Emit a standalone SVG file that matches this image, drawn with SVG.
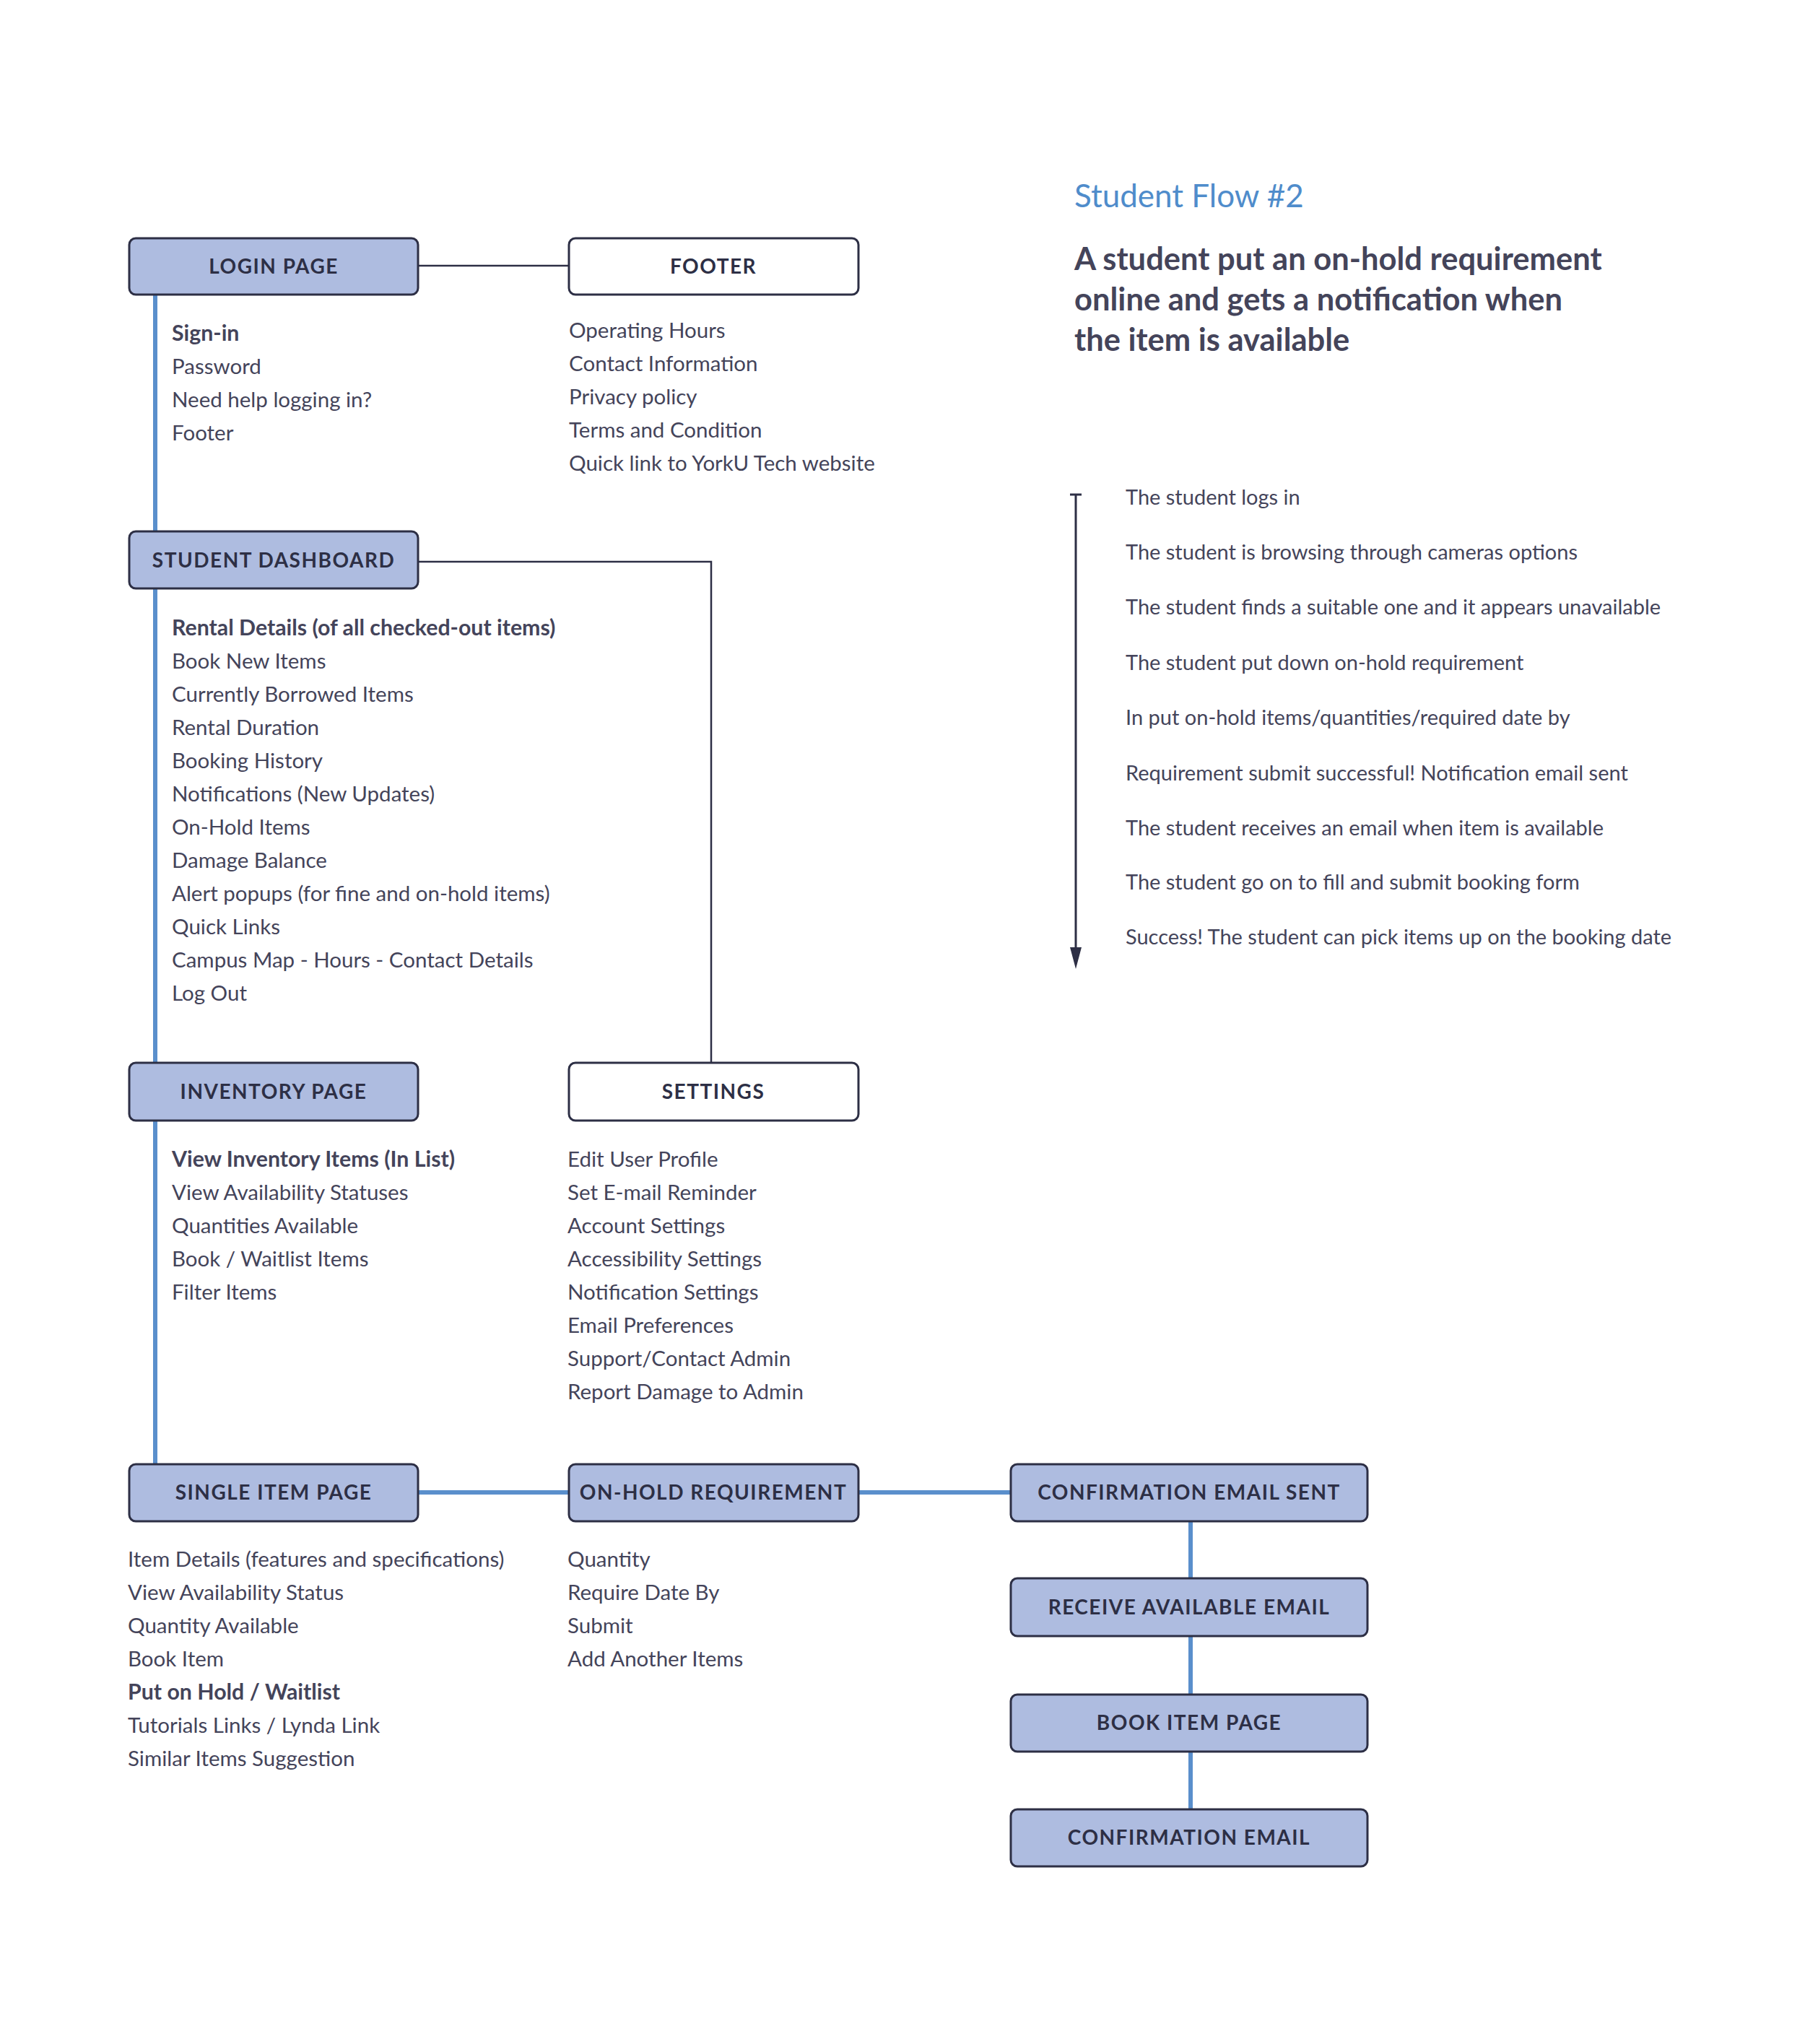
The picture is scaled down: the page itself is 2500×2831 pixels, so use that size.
<svg xmlns="http://www.w3.org/2000/svg" width="2500" height="2831" viewBox="0 0 2500 2831">
<style>
.box{fill:#aebce0;stroke:#2d2f45;stroke-width:3}
.wbox{fill:#ffffff;stroke:#2d2f45;stroke-width:3}
.lbl{font-family:Lato,"Liberation Sans",sans-serif;font-size:28px;font-weight:700;fill:#2d2f45;letter-spacing:1.5px;text-anchor:middle}
.it{font-family:Lato,"Liberation Sans",sans-serif;font-size:29.5px;fill:#44445a}
.b{font-weight:700;font-size:30.3px}
.blue{stroke:#5a8fcc;stroke-width:6;fill:none}
.dark{stroke:#2d2f45;stroke-width:2.5;fill:none}
.title{font-family:Lato,"Liberation Sans",sans-serif;font-size:44px;fill:#4f8ccb}
.head{font-family:Lato,"Liberation Sans",sans-serif;font-size:43.5px;font-weight:700;fill:#44445a}
.fl{font-family:Lato,"Liberation Sans",sans-serif;font-size:29px;fill:#44445a}
</style>
<rect width="2500" height="2831" fill="#ffffff"/>

<g id="connectors">
<line class="dark" x1="579" y1="368" x2="788" y2="368"/>
<polyline class="dark" points="579,778 985,778 985,1472"/>
<line class="blue" x1="215" y1="408" x2="215" y2="736"/>
<line class="blue" x1="215" y1="815" x2="215" y2="1472"/>
<line class="blue" x1="215" y1="1552" x2="215" y2="2028"/>
<line class="blue" x1="579" y1="2067" x2="788" y2="2067"/>
<line class="blue" x1="1189" y1="2067" x2="1400" y2="2067"/>
<line class="blue" x1="1649" y1="2107" x2="1649" y2="2186"/>
<line class="blue" x1="1649" y1="2266" x2="1649" y2="2347"/>
<line class="blue" x1="1649" y1="2426" x2="1649" y2="2506"/>
</g>

<g id="login">
<rect class="box" x="179" y="330" width="400" height="78" rx="9"/>
<text class="lbl" x="379" y="379">LOGIN PAGE</text>
<text class="it b" x="238" y="472">Sign-in</text>
<text class="it" x="238" y="518">Password</text>
<text class="it" x="238" y="564">Need help logging in?</text>
<text class="it" x="238" y="610">Footer</text>
</g>

<g id="footer">
<rect class="wbox" x="788" y="330" width="401" height="78" rx="9"/>
<text class="lbl" x="988" y="379">FOOTER</text>
<text class="it" x="788" y="468">Operating Hours</text>
<text class="it" x="788" y="514">Contact Information</text>
<text class="it" x="788" y="560">Privacy policy</text>
<text class="it" x="788" y="606">Terms and Condition</text>
<text class="it" x="788" y="652">Quick link to YorkU Tech website</text>
</g>

<g id="dashboard">
<rect class="box" x="179" y="736" width="400" height="79" rx="9"/>
<text class="lbl" x="379" y="786">STUDENT DASHBOARD</text>
<text class="it b" x="238" y="880">Rental Details (of all checked-out items)</text>
<text class="it" x="238" y="926">Book New Items</text>
<text class="it" x="238" y="972">Currently Borrowed Items</text>
<text class="it" x="238" y="1018">Rental Duration</text>
<text class="it" x="238" y="1064">Booking History</text>
<text class="it" x="238" y="1110">Notifications (New Updates)</text>
<text class="it" x="238" y="1156">On-Hold Items</text>
<text class="it" x="238" y="1202">Damage Balance</text>
<text class="it" x="238" y="1248">Alert popups (for fine and on-hold items)</text>
<text class="it" x="238" y="1294">Quick Links</text>
<text class="it" x="238" y="1340">Campus Map - Hours - Contact Details</text>
<text class="it" x="238" y="1386">Log Out</text>
</g>

<g id="inventory">
<rect class="box" x="179" y="1472" width="400" height="80" rx="9"/>
<text class="lbl" x="379" y="1522">INVENTORY PAGE</text>
<text class="it b" x="238" y="1616">View Inventory Items (In List)</text>
<text class="it" x="238" y="1662">View Availability Statuses</text>
<text class="it" x="238" y="1708">Quantities Available</text>
<text class="it" x="238" y="1754">Book / Waitlist Items</text>
<text class="it" x="238" y="1800">Filter Items</text>
</g>

<g id="settings">
<rect class="wbox" x="788" y="1472" width="401" height="80" rx="9"/>
<text class="lbl" x="988" y="1522">SETTINGS</text>
<text class="it" x="786" y="1616">Edit User Profile</text>
<text class="it" x="786" y="1662">Set E-mail Reminder</text>
<text class="it" x="786" y="1708">Account Settings</text>
<text class="it" x="786" y="1754">Accessibility Settings</text>
<text class="it" x="786" y="1800">Notification Settings</text>
<text class="it" x="786" y="1846">Email Preferences</text>
<text class="it" x="786" y="1892">Support/Contact Admin</text>
<text class="it" x="786" y="1938">Report Damage to Admin</text>
</g>

<g id="single-item">
<rect class="box" x="179" y="2028" width="400" height="79" rx="9"/>
<text class="lbl" x="379" y="2077">SINGLE ITEM PAGE</text>
<text class="it" x="177" y="2170">Item Details (features and specifications)</text>
<text class="it" x="177" y="2216">View Availability Status</text>
<text class="it" x="177" y="2262">Quantity Available</text>
<text class="it" x="177" y="2308">Book Item</text>
<text class="it b" x="177" y="2354">Put on Hold / Waitlist</text>
<text class="it" x="177" y="2400">Tutorials Links / Lynda Link</text>
<text class="it" x="177" y="2446">Similar Items Suggestion</text>
</g>

<g id="on-hold">
<rect class="box" x="788" y="2028" width="401" height="79" rx="9"/>
<text class="lbl" x="988" y="2077">ON-HOLD REQUIREMENT</text>
<text class="it" x="786" y="2170">Quantity</text>
<text class="it" x="786" y="2216">Require Date By</text>
<text class="it" x="786" y="2262">Submit</text>
<text class="it" x="786" y="2308">Add Another Items</text>
</g>

<g id="conf-sent">
<rect class="box" x="1400" y="2028" width="494" height="79" rx="9"/>
<text class="lbl" x="1647" y="2077">CONFIRMATION EMAIL SENT</text>
</g>
<g id="receive">
<rect class="box" x="1400" y="2186" width="494" height="80" rx="9"/>
<text class="lbl" x="1647" y="2236">RECEIVE AVAILABLE EMAIL</text>
</g>
<g id="book-item">
<rect class="box" x="1400" y="2347" width="494" height="79" rx="9"/>
<text class="lbl" x="1647" y="2396">BOOK ITEM PAGE</text>
</g>
<g id="conf-email">
<rect class="box" x="1400" y="2506" width="494" height="79" rx="9"/>
<text class="lbl" x="1647" y="2555">CONFIRMATION EMAIL</text>
</g>

<g id="description">
<text class="title" x="1488" y="287">Student Flow #2</text>
<text class="head" x="1488" y="374">A student put an on-hold requirement</text>
<text class="head" x="1488" y="430">online and gets a notification when</text>
<text class="head" x="1488" y="486">the item is available</text>
</g>

<g id="flow-steps">
<line x1="1482" y1="685" x2="1498" y2="685" stroke="#2d2f45" stroke-width="3"/>
<line x1="1490" y1="685" x2="1490" y2="1320" stroke="#2d2f45" stroke-width="3"/>
<polygon points="1482,1312 1498,1312 1490,1342" fill="#2d2f45"/>
<text class="fl" x="1559" y="699">The student logs in</text>
<text class="fl" x="1559" y="775">The student is browsing through cameras options</text>
<text class="fl" x="1559" y="851">The student finds a suitable one and it appears unavailable</text>
<text class="fl" x="1559" y="928">The student put down on-hold requirement</text>
<text class="fl" x="1559" y="1004">In put on-hold items/quantities/required date by</text>
<text class="fl" x="1559" y="1081">Requirement submit successful! Notification email sent</text>
<text class="fl" x="1559" y="1157">The student receives an email when item is available</text>
<text class="fl" x="1559" y="1232">The student go on to fill and submit booking form</text>
<text class="fl" x="1559" y="1308">Success! The student can pick items up on the booking date</text>
</g>
</svg>
